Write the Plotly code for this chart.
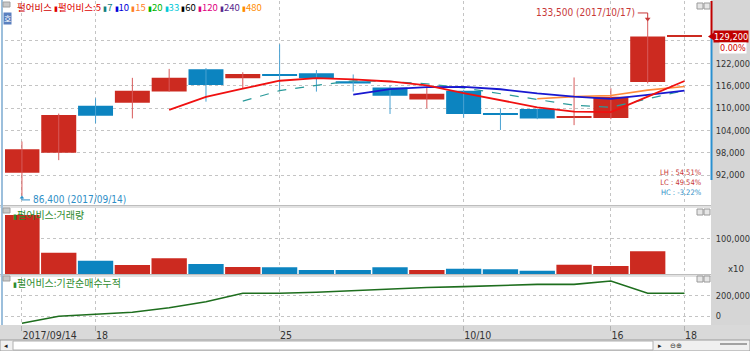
import plotly.graph_objects as go

# ---------------- data ----------------
dates = ["2017/09/14", "09/15", "09/18", "09/19", "09/20", "09/21", "09/22", "09/25", "09/26",
         "09/27", "09/28", "09/29", "10/10", "10/11", "10/12", "10/13", "10/16", "10/17", "10/18"]
opens = [92600, 98000, 110600, 111400, 114400, 120400, 118000, 119100, 119300, 117200,
         115500, 112300, 114600, 108400, 109700, 107400, 107300, 117000, 129200]
highs = [101000, 108500, 112600, 118100, 120500, 120700, 119600, 127100, 120200, 119000,
         116000, 115700, 114900, 109900, 109800, 118200, 115300, 133500, 129200]
lows = [86400, 96000, 105900, 107200, 114400, 111700, 115300, 114800, 114400, 114400,
        108400, 109900, 107400, 104100, 107000, 105400, 107000, 116600, 129200]
closes = [98900, 108100, 107900, 114600, 118100, 116200, 119100, 118600, 118000, 116600,
          113300, 113800, 108400, 108200, 107200, 107600, 113000, 129200, 129200]

ma5 = [None] * 4 + [109520, 112980, 115180, 117320, 118000, 117700, 117120, 116060, 114020,
                    112060, 110180, 109040, 108880, 113040, 117240]
ma7 = [None] * 6 + [111843, 114657, 116071, 117314, 117129, 116514, 115400, 113843, 112214,
                    110729, 110214, 112486, 114686]
ma10 = [None] * 9 + [113610, 115050, 115620, 115670, 115030, 113940, 113080, 112470, 113530, 114650]
ma15 = [None] * 14 + [112467, 113047, 113373, 114793, 115767]

volume = [165300, 59700, 37300, 25200, 44000, 28000, 19600, 18800, 11200, 11200,
          18800, 11200, 14800, 13200, 9200, 26000, 22400, 63600, 0]

inst_cum = [-72000, -3000, 16700, 36500, 82000, 141000, 224000, 224000, 234000, 248000,
            269000, 281000, 289000, 304000, 312000, 312000, 345000, 224000, 224000]

tick_idx = [0, 2, 7, 12, 16, 18]
tick_text = ["2017/09/14", "18", "25", "10/10", "16", "18"]
price_ticks = [92000, 98000, 104000, 110000, 116000, 122000, 128000]

legend_names = ["펄어비스:5", "7", "10", "15", "20", "33", "60", "120", "240", "480"]
legend_colors = ["#e00000", "#128080", "#0000d8", "#ff7f27", "#00b400", "#00c8d8",
                 "#000000", "#e0007f", "#5a2a90", "#ff8c00"]

# ---------------- style ----------------
RED = "#cc2a20"
BLUE = "#0c84c0"
RED_W = "#d85a5a"
BLUE_W = "#4aa2d2"
GRID = "#c4c4c4"
NUM_FONT = "Liberation Sans Narrow, DejaVu Sans Condensed, Liberation Sans, Arial"
KR_FONT = "Noto Sans CJK KR, Noto Sans, sans-serif"

W, H = 750, 351
ML, MR, MT, MB = 5, 39, 1, 26
PW, PH = W - ML - MR, H - MT - MB


def px(x):
    return (x - ML) / PW


def py(y):
    return (H - MB - y) / PH


n = len(closes)
xs = list(range(n))
PRICE_RANGE = [83960, 138725]

fig = go.Figure()

# wicks
for up in (True, False):
    wx, wy = [], []
    for i in xs:
        if (closes[i] >= opens[i]) == up:
            wx += [i, i, None]
            wy += [lows[i], highs[i], None]
    fig.add_trace(go.Scatter(x=wx, y=wy, mode="lines", line=dict(color=RED_W if up else BLUE_W, width=1),
                             xaxis="x", yaxis="y", hoverinfo="skip", showlegend=False))

# candle bodies
min_body = 300
body_base = [min(o, c) for o, c in zip(opens, closes)]
body_h = [max(abs(c - o), min_body) for o, c in zip(opens, closes)]
body_col = [RED if c >= o else BLUE for o, c in zip(opens, closes)]
fig.add_trace(go.Bar(x=xs, y=body_h, base=body_base, width=0.95, marker=dict(color=body_col, line=dict(width=0)),
                     xaxis="x", yaxis="y", hoverinfo="skip", showlegend=False))

# moving averages
fig.add_trace(go.Scatter(x=xs, y=ma7, mode="lines", line=dict(color="#2a9a9a", width=1.2, dash="dash"),
                         xaxis="x", yaxis="y", hoverinfo="skip", showlegend=False))
fig.add_trace(go.Scatter(x=xs, y=ma15, mode="lines", line=dict(color="#ff8a3a", width=1.6),
                         xaxis="x", yaxis="y", hoverinfo="skip", showlegend=False))
fig.add_trace(go.Scatter(x=xs, y=ma10, mode="lines", line=dict(color="#1818d0", width=1.8),
                         xaxis="x", yaxis="y", hoverinfo="skip", showlegend=False))
fig.add_trace(go.Scatter(x=xs, y=ma5, mode="lines", line=dict(color="#f01010", width=1.8),
                         xaxis="x", yaxis="y", hoverinfo="skip", showlegend=False))

# high / low markers
i_hi = max(xs, key=lambda i: highs[i])
i_lo = min(xs, key=lambda i: lows[i])
hi, lo = highs[i_hi], lows[i_lo]
upp = (PRICE_RANGE[1] - PRICE_RANGE[0]) / ((py(1) - py(205)) * PH)  # price per pixel
hi_y = hi + 7.5 * upp
fig.add_trace(go.Scatter(x=[i_hi - 0.27, i_hi, i_hi], y=[hi_y, hi_y, hi + 1.5 * upp], mode="lines",
                         line=dict(color="#c83838", width=1), xaxis="x", yaxis="y",
                         hoverinfo="skip", showlegend=False))
fig.add_trace(go.Scatter(x=[i_hi], y=[hi + 1.5 * upp], mode="markers",
                         marker=dict(symbol="triangle-down", size=5, color="#c83838"),
                         xaxis="x", yaxis="y", hoverinfo="skip", showlegend=False))
lo_y = lo - 4 * upp
fig.add_trace(go.Scatter(x=[i_lo, i_lo, i_lo + 0.22], y=[lo - 1 * upp, lo_y, lo_y], mode="lines",
                         line=dict(color="#2f8fc7", width=1), xaxis="x", yaxis="y",
                         hoverinfo="skip", showlegend=False))
fig.add_trace(go.Scatter(x=[i_lo], y=[lo - 1.5 * upp], mode="markers",
                         marker=dict(symbol="triangle-up", size=4, color="#2f8fc7"),
                         xaxis="x", yaxis="y", hoverinfo="skip", showlegend=False))

# volume
fig.add_trace(go.Bar(x=xs, y=volume, width=0.96, marker=dict(color=body_col, line=dict(width=0)),
                     xaxis="x2", yaxis="y2", hoverinfo="skip", showlegend=False))

# institutional cumulative
fig.add_trace(go.Scatter(x=xs, y=inst_cum, mode="lines", line=dict(color="#1e6e1e", width=1.6),
                         xaxis="x3", yaxis="y3", hoverinfo="skip", showlegend=False))

XR = [-0.46, 18.72]
xcommon = dict(range=XR, tickvals=tick_idx, showgrid=True, gridcolor=GRID, griddash="dot", gridwidth=1,
               zeroline=False, showline=False, fixedrange=True, automargin=False)
ycommon = dict(side="right", showgrid=True, gridcolor=GRID, griddash="dot", gridwidth=1, zeroline=False,
               showline=False, ticks="outside", ticklen=2, tickcolor="rgba(0,0,0,0)", automargin=False,
               tickfont=dict(family=NUM_FONT, size=9.2, color="#333333"), fixedrange=True)

fig.update_layout(
    width=W, height=H, margin=dict(l=ML, r=MR, t=MT, b=MB, autoexpand=False),
    paper_bgcolor="white", plot_bgcolor="white", barmode="overlay", showlegend=False,
    xaxis=dict(domain=[0, 1], anchor="y", showticklabels=False, **xcommon),
    xaxis2=dict(domain=[0, 1], anchor="y2", showticklabels=False, **xcommon),
    xaxis3=dict(domain=[0, 1], anchor="y3", showticklabels=True, ticktext=tick_text,
                ticks="outside", ticklen=5, tickcolor="#b0b0b0", ticklabelposition="outside right",
                tickfont=dict(family=NUM_FONT, size=10.5, color="#333333"), **xcommon),
    yaxis=dict(domain=[py(205), 1], anchor="x", range=PRICE_RANGE, tickvals=price_ticks,
               ticktext=[f"{v:,}" if v != price_ticks[-1] else "" for v in price_ticks], **ycommon),
    yaxis2=dict(domain=[py(274), py(208)], anchor="x2", range=[0, 184900], tickvals=[100000],
                ticktext=["100,000"], **ycommon),
    yaxis3=dict(domain=[0, py(277)], anchor="x3", range=[-88700, 384200], tickvals=[0, 200000],
                ticktext=["0", "200,000"], **ycommon),
)

shapes = []
# right axis gray column
shapes.append(dict(type="rect", xref="paper", yref="paper", x0=px(711), x1=px(751), y0=py(341), y1=py(-1),
                   fillcolor="#d6d6d6", line=dict(width=0), layer="below"))
# bottom label band
shapes.append(dict(type="rect", xref="paper", yref="paper", x0=px(-1), x1=px(751), y0=py(340), y1=py(325),
                   fillcolor="#d9d9d9", line=dict(width=0), layer="below"))
# panel separators
for y0, y1 in ((205, 208), (274, 277)):
    shapes.append(dict(type="rect", xref="paper", yref="paper", x0=px(-1), x1=px(711), y0=py(y1), y1=py(y0),
                       fillcolor="#e2e2e2", line=dict(width=0)))
    shapes.append(dict(type="line", xref="paper", yref="paper", x0=px(0), x1=px(711), y0=py(y0 + 0.5),
                       y1=py(y0 + 0.5), line=dict(color="#bdbdbd", width=1)))
# left border
shapes.append(dict(type="line", xref="paper", yref="paper", x0=px(2), x1=px(2), y0=py(325), y1=py(0),
                   line=dict(color="#9cbfdc", width=2)))
# right edge price gauge
shapes.append(dict(type="line", xref="paper", yref="y", x0=px(711.5), x1=px(711.5), y0=closes[-1],
                   y1=PRICE_RANGE[1], line=dict(color="#c00000", width=2)))
shapes.append(dict(type="line", xref="paper", yref="paper", x0=px(711.5), x1=px(711.5), y0=py(180),
                   y1=py(35), line=dict(color="#2a90d0", width=2)))
# price marker triangle
tri_h = 4 * upp
shapes.append(dict(type="path", xref="paper", yref="y",
                   path=f"M {px(708)},{closes[-1]} L {px(714)},{closes[-1] + tri_h} L {px(714)},{closes[-1] - tri_h} Z",
                   fillcolor="#c00000", line=dict(width=0)))
# small panel buttons
for yb in (3, 209, 276):
    for xb in (697, 704):
        shapes.append(dict(type="rect", xref="paper", yref="paper", x0=px(xb), x1=px(xb + 6), y0=py(yb + 6),
                           y1=py(yb), fillcolor="#e6e6e6", line=dict(color="#9a9a9a", width=1)))
# top-left and panel icons
for yb in (2, 208, 276):
    shapes.append(dict(type="rect", xref="paper", yref="paper", x0=px(3), x1=px(10), y0=py(yb + 5),
                       y1=py(yb), fillcolor="#c8c8c8", line=dict(color="#a0a0a0", width=1)))
# scrollbar row
shapes.append(dict(type="rect", xref="paper", yref="paper", x0=px(0), x1=px(750), y0=py(351), y1=py(340),
                   fillcolor="#f0f0f0", line=dict(color="#9a9a9a", width=1)))
shapes.append(dict(type="rect", xref="paper", yref="paper", x0=px(13), x1=px(653), y0=py(350), y1=py(341),
                   fillcolor="#ffffff", line=dict(color="#b0b0b0", width=1)))
shapes.append(dict(type="line", xref="paper", yref="paper", x0=px(720), x1=px(747), y0=py(344), y1=py(344),
                   line=dict(color="#555555", width=1)))
fig.update_layout(shapes=shapes)

ann = []
# top legend
leg = "<span style='color:#d00000'>펄어비스</span> "
parts = []
for nm, col in zip(legend_names, legend_colors):
    parts.append(f"<span style='color:{col};font-size:7px'>▮</span><span style='color:{col}'>{nm}</span>")
leg += " ".join(parts)
ann.append(dict(xref="paper", yref="paper", x=px(15), y=py(7), xanchor="left", yanchor="middle",
                text=leg, showarrow=False, font=dict(family=KR_FONT, size=9.5)))
# "호" box
ann.append(dict(xref="paper", yref="paper", x=px(3), y=py(18), xanchor="left", yanchor="middle", text="호",
                showarrow=False, font=dict(family=KR_FONT, size=8, color="white"), bgcolor="#5a80bf",
                borderpad=0))
# panel legends
ann.append(dict(xref="paper", yref="paper", x=px(11), y=py(214), xanchor="left", yanchor="middle",
                text="<span style='font-size:7px'>▮</span>펄어비스:거래량", showarrow=False,
                font=dict(family=KR_FONT, size=10, color="#2e8b2e")))
ann.append(dict(xref="paper", yref="paper", x=px(11), y=py(282), xanchor="left", yanchor="middle",
                text="<span style='font-size:7px'>▮</span>펄어비스:기관순매수누적", showarrow=False,
                font=dict(family=KR_FONT, size=10, color="#2e8b2e")))
# high / low labels
ann.append(dict(xref="x", yref="y", x=i_hi - 0.29, y=hi_y, xanchor="right", yanchor="middle",
                text=f"{hi:,} ({dates[0][:5]}{dates[i_hi]})", showarrow=False,
                font=dict(family=NUM_FONT, size=10, color="#c83838")))
ann.append(dict(xref="x", yref="y", x=i_lo + 0.24, y=lo_y, xanchor="left", yanchor="middle",
                text=f"{lo:,} ({dates[i_lo]})", showarrow=False,
                font=dict(family=NUM_FONT, size=10, color="#2f8fc7")))
# LH / LC / HC
last = closes[-1]
stats = [("LH", (hi - lo) / lo * 100, "#c83838"), ("LC", (last - lo) / lo * 100, "#c83838"),
         ("HC", (last - hi) / hi * 100, "#2f8fc7")]
stat_txt = "<br>".join(f"<span style='color:{col}'>{nm} : {v:.2f}%</span>" for nm, v, col in stats)
ann.append(dict(xref="paper", yref="paper", x=px(704), y=py(182), xanchor="right", yanchor="middle",
                align="right", text=stat_txt, showarrow=False, font=dict(family=NUM_FONT, size=7.5)))
# current price box
ann.append(dict(xref="paper", yref="y", x=px(713), y=last, xanchor="left", yanchor="middle",
                text=f"{last:,}", showarrow=False, bgcolor="#c00000", borderpad=0,
                font=dict(family=NUM_FONT, size=9.2, color="white")))
chg = (closes[-1] - closes[-2]) / closes[-2] * 100
ann.append(dict(xref="paper", yref="paper", x=px(747), y=py(48.5), xanchor="right", yanchor="middle",
                text=f"{chg:.2f}%", showarrow=False, bgcolor="white", borderpad=0,
                font=dict(family=NUM_FONT, size=9, color="#d00000")))
# volume unit
ann.append(dict(xref="paper", yref="paper", x=px(746), y=py(268), xanchor="right", yanchor="middle",
                text="x10", showarrow=False, font=dict(family=NUM_FONT, size=9.5, color="#333333")))
# scrollbar glyphs
ann.append(dict(xref="paper", yref="paper", x=px(6), y=py(345.5), xanchor="center", yanchor="middle",
                text="◂", showarrow=False, font=dict(size=7, color="#222")))
ann.append(dict(xref="paper", yref="paper", x=px(660), y=py(345.5), xanchor="center", yanchor="middle",
                text="▸", showarrow=False, font=dict(size=7, color="#222")))
ann.append(dict(xref="paper", yref="paper", x=px(668), y=py(345.5), xanchor="left", yanchor="middle",
                text="⊖⊕", showarrow=False, font=dict(size=7, color="#333")))
fig.update_layout(annotations=ann)

fig.write_html("out.html")
